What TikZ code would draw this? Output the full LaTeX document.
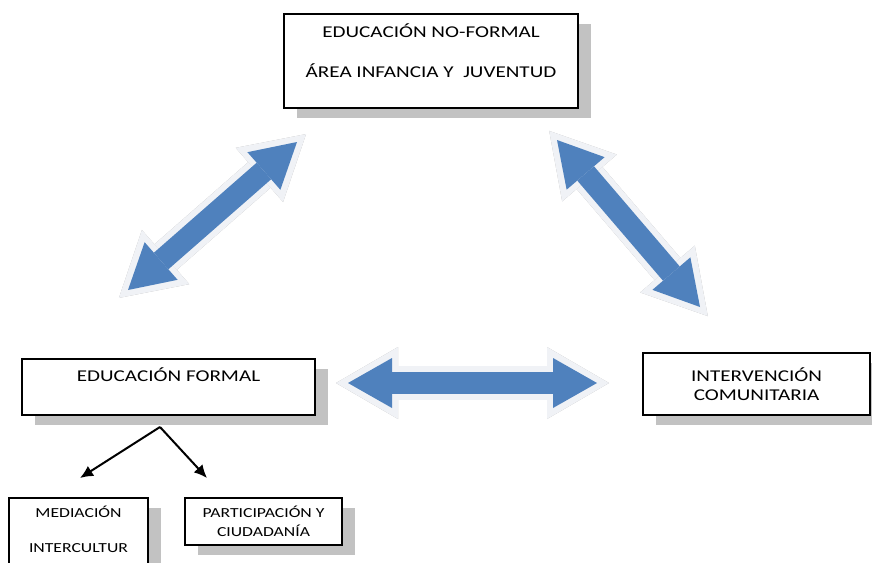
\documentclass[tikz,border=0pt]{standalone}
\usepackage{fontspec}
\setmainfont{Carlito}[FakeStretch=1.28]
\usetikzlibrary{arrows.meta,shadows}

\definecolor{arrowblue}{RGB}{79,129,189}
\definecolor{halo}{RGB}{240,242,246}

\begin{document}
\begin{tikzpicture}[x=1pt,y=-1pt,
  box/.style={draw,line width=1.8pt,fill=white,align=center,inner sep=3pt,
    drop shadow={shadow xshift=13pt,shadow yshift=-10pt,fill=black!24,opacity=1}},
  bigfont/.style={font=\fontsize{16.5}{19}\selectfont},
  smallfont/.style={font=\fontsize{13.8}{19}\selectfont},
  arrowbody/.style={draw=arrowblue,line width=22pt,
    {Triangle[width=50pt,length=44pt,line width=0pt]}-{Triangle[width=50pt,length=44pt,line width=0pt]}},
  arrowhalo/.style={draw=halo,line width=34pt,shorten >=-12pt,shorten <=-12pt,
    {Triangle[width=72pt,length=62pt,line width=0pt]}-{Triangle[width=72pt,length=62pt,line width=0pt]}},
  arrowshadow/.style={arrowhalo,draw=black!30,xshift=2.5pt,yshift=-2.5pt},
  tree/.style={line width=2pt,line join=round,-{Latex[length=13pt,width=12pt]}}]

\path[use as bounding box,clip] (0,0) rectangle (872,562);

% boxes
\node[box,bigfont,minimum width=294pt,minimum height=94pt,text height=50pt,text depth=18pt]
  (nf) at (431,61) {EDUCACIÓN NO-FORMAL\\[21pt]ÁREA INFANCIA Y\ \ JUVENTUD};
\node[box,bigfont,minimum width=293pt,minimum height=56pt,text height=10.5pt,text depth=21.5pt]
  (ef) at (168.5,387) {EDUCACIÓN FORMAL};
\node[box,bigfont,minimum width=227pt,minimum height=62pt]
  (ic) at (756.5,384) {INTERVENCIÓN\\COMUNITARIA};
\node[box,smallfont,minimum width=139pt,minimum height=90pt,text height=44pt,text depth=26pt]
  (med) at (78.5,543) {MEDIACIÓN\\[16pt]INTERCULTUR};
\node[box,smallfont,minimum width=157pt,minimum height=47pt]
  (par) at (263.5,521.5) {PARTICIPACIÓN Y\\CIUDADANÍA};

% ends of the block arrows
\coordinate (efR) at (348,383);
\coordinate (icL) at (597,383);
\coordinate (efT) at (128,290);
\coordinate (nfL) at (297,142);
\coordinate (nfR) at (557,140);
\coordinate (icT) at (700,307);

\foreach \a/\b in {efR/icL,efT/nfL,nfR/icT}{
  \draw[arrowshadow] (\a) -- (\b);
  \draw[arrowhalo] (\a) -- (\b);
  \draw[arrowbody] (\a) -- (\b);
}

% branches of the formal education box
\coordinate (fork) at (160,427);
\coordinate (medT) at (80,478);
\coordinate (parT) at (207,478);
\path[tree] (fork) edge (medT)
                   edge (parT);
\end{tikzpicture}
\end{document}
